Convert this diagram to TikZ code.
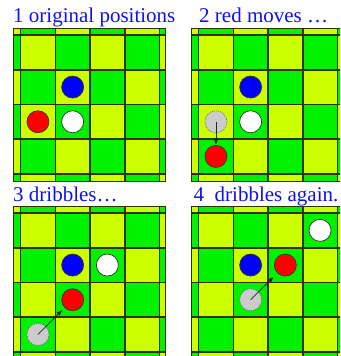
\documentclass[tikz,border=0pt]{standalone}
\usepackage{fontspec}
\setmainfont{Liberation Serif}
\definecolor{BoardGreen}{HTML}{00F200}
\definecolor{BoardYellow}{HTML}{CCFF00}
\definecolor{GridDark}{HTML}{2E3300}
\definecolor{TitleBlue}{HTML}{1010F0}
\definecolor{GhostGray}{HTML}{CCCCCC}
\usetikzlibrary{arrows.meta}
\tikzset{
  title/.style={anchor=base west, inner sep=0pt, text=TitleBlue, font=\fontsize{21}{25}\selectfont},
  gridLine/.style={draw=GridDark, line width=1.6pt},
  boardEdge/.style={draw=GridDark, line width=0.9pt},
  stone/.style={circle, draw=black!80, line width=0.7pt, minimum size=22pt, inner sep=0pt},
  blueStone/.style={stone, fill=blue},
  redStone/.style={stone, fill=red},
  whiteStone/.style={stone, fill=white},
  ghostStone/.style={stone, fill=GhostGray, draw=black!55, dash pattern=on 1pt off 1pt},
  moveArrow/.style={-{Latex[length=6pt,width=4.5pt]}, draw=black!85, line width=0.8pt},
  board/.pic={
    \begin{scope}
      \clip (0,0) rectangle (152,153);
      \fill[BoardGreen] (0,0) rectangle (152,153);
      \foreach \i in {0,...,5} {
        \foreach \j in {0,...,5} {
          \pgfmathtruncatemacro{\parity}{mod(\i+\j,2)}
          \ifnum\parity=0
            \fill[BoardYellow] ({7.6+(\i-1)*34.7},{7+(\j-1)*34.7}) rectangle +(34.7,34.7);
          \fi
        }
      }
      \foreach \k in {0,...,4} {
        \draw[gridLine] ({7.6+\k*34.7},0) -- ++(0,153);
        \draw[gridLine] (0,{7+\k*34.7}) -- ++(152,0);
      }
    \end{scope}
    \draw[boardEdge] (0,0) rectangle (152,153);
  }
}
\begin{document}
\begin{tikzpicture}[x=1pt,y=-1pt]
  \useasboundingbox (0,0) rectangle (340,356);
  \clip (0,0) rectangle (340,356);

  \pic at (13,28) {board};
  \pic at (191,28) {board};
  \pic at (13,206) {board};
  \pic at (191,206) {board};

  \node[title] (t1) at (13,23) {1 original positions};
  \node[title] (t2) at (199,23) {2 red moves …};
  \node[title] (t3) at (13,201) {3 dribbles…};
  \node[title] (t4) at (193.5,201) {4\ \ dribbles again.};

  % 1
  \node[blueStone] (b1) at (72.65,87.05) {};
  \node[redStone] (r1) at (37.95,121.75) {};
  \node[whiteStone] (w1) at (72.65,121.75) {};

  % 2
  \node[blueStone] (b2) at (250.65,87.05) {};
  \node[whiteStone] (w2) at (250.65,121.75) {};
  \node[ghostStone] (g2) at (215.95,121.75) {};
  \node[redStone] (r2) at (215.95,156.45) {};
  \draw[moveArrow] (g2.center) -- (r2);

  % 3
  \node[blueStone] (b3) at (72.65,265.05) {};
  \node[whiteStone] (w3) at (107.35,265.05) {};
  \node[redStone] (r3) at (72.65,299.75) {};
  \node[ghostStone] (g3) at (37.95,334.45) {};
  \draw[moveArrow, shorten >=3pt] (g3.center) -- (r3);

  % 4
  \node[whiteStone] (w4) at (320.05,230.35) {};
  \node[blueStone] (b4) at (250.65,265.05) {};
  \node[redStone] (r4) at (285.35,265.05) {};
  \node[ghostStone] (g4) at (250.65,299.75) {};
  \draw[moveArrow, shorten >=5pt] (g4.center) -- (r4);
\end{tikzpicture}
\end{document}
